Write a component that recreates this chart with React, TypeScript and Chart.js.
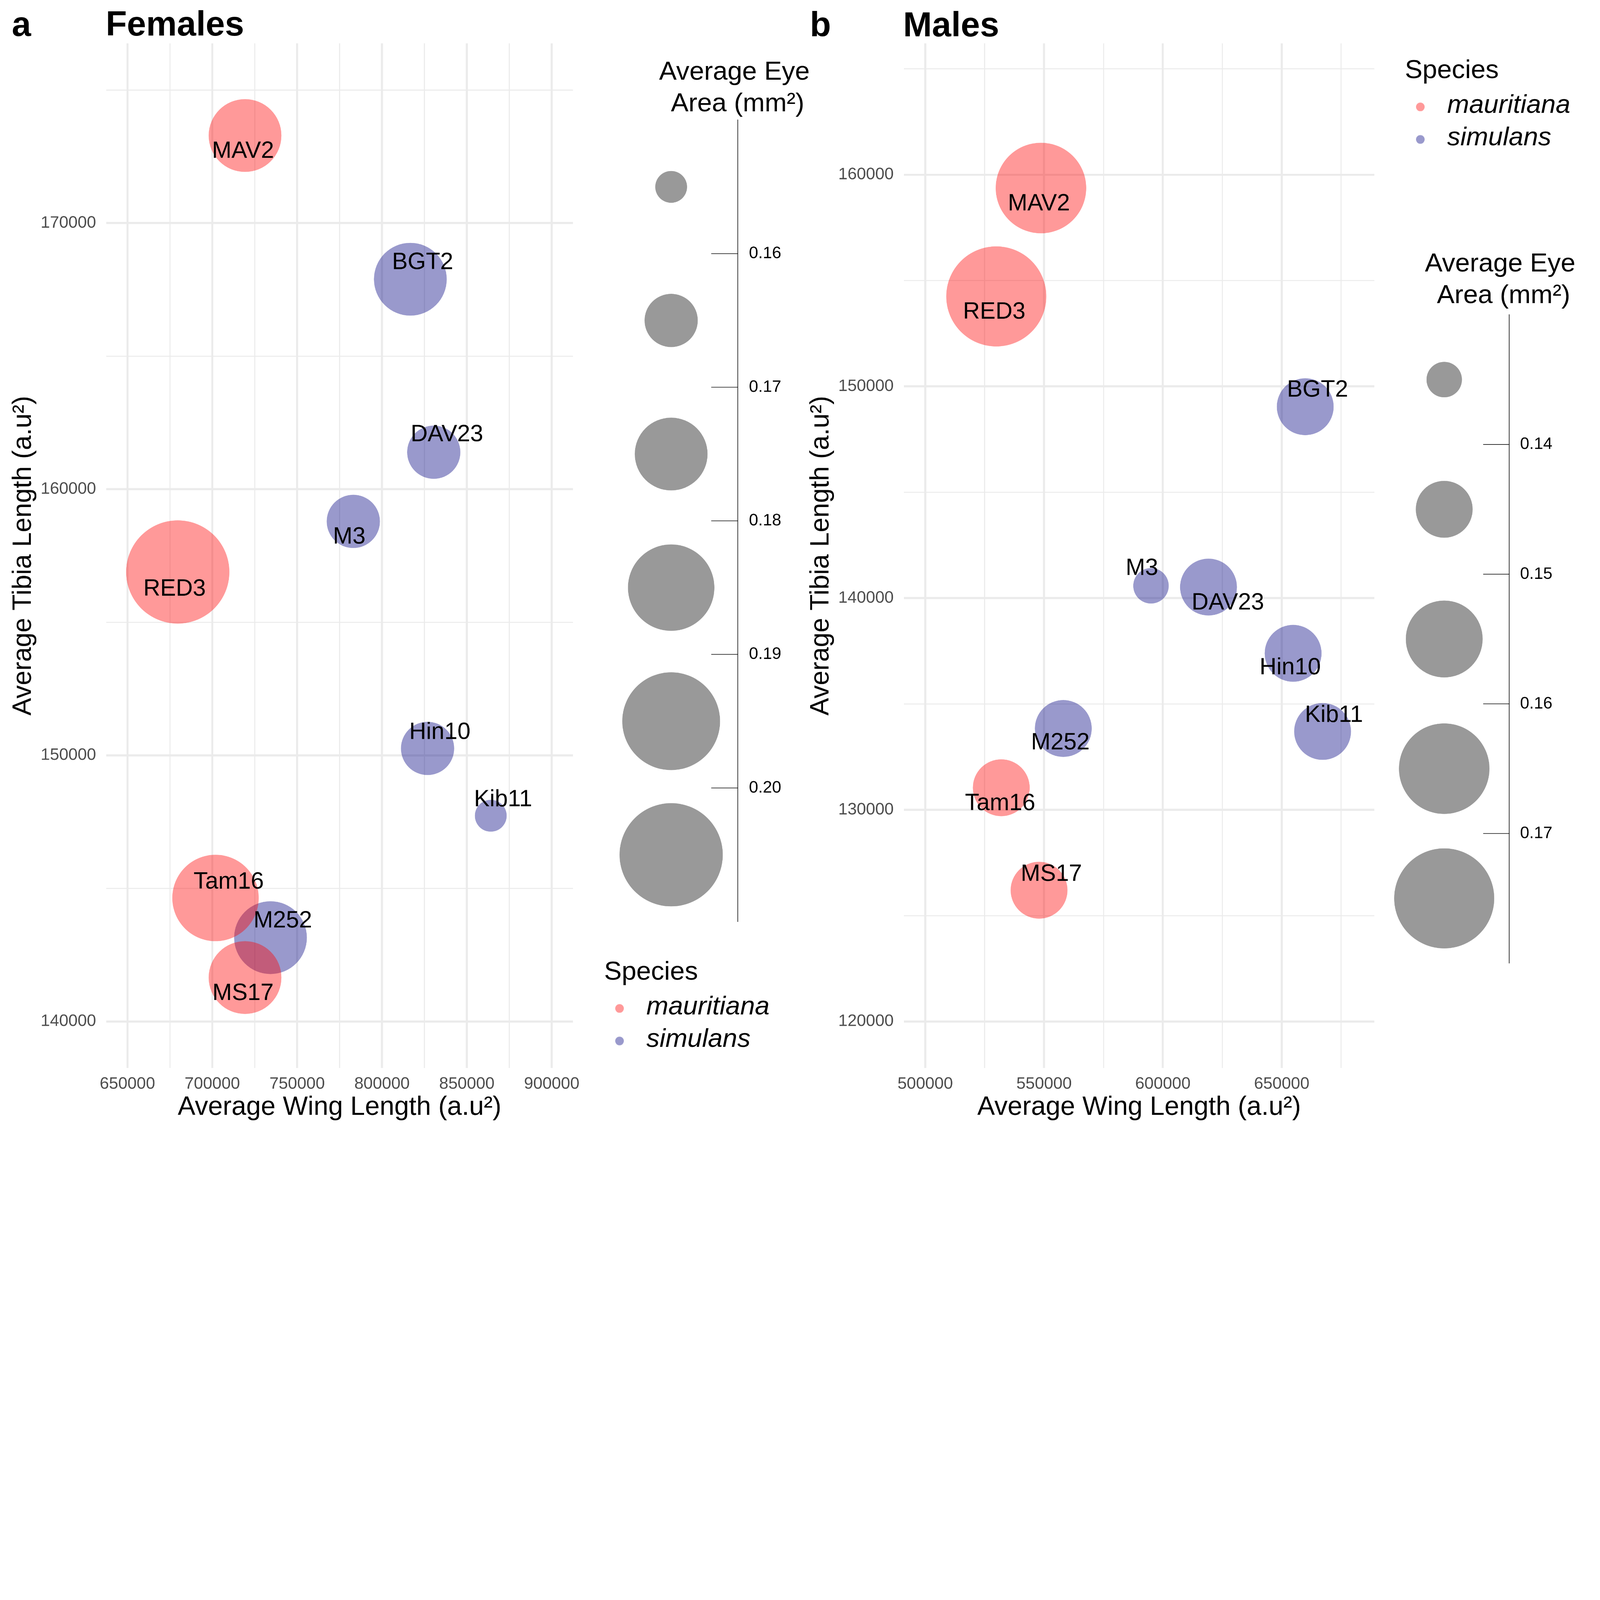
import React, { useEffect, useRef, useState } from 'react';
import { Chart, registerables } from 'chart.js';

Chart.register(...registerables);

const FONT = "'Liberation Sans', Arial, Helvetica, sans-serif";

// ---------------- data ----------------
const lineNames = ['MAV2', 'BGT2', 'DAV23', 'M3', 'RED3', 'Hin10', 'Kib11', 'Tam16', 'M252', 'MS17'];
const lineSpecies = ['mauritiana', 'simulans', 'simulans', 'simulans', 'mauritiana', 'simulans', 'simulans', 'mauritiana', 'simulans', 'mauritiana'];
const speciesNames = ['mauritiana', 'simulans'];

const femaleWing = [719300, 816700, 830500, 783100, 679650, 826850, 864100, 701900, 734300, 719300];
const femaleTibia = [173290, 167890, 161390, 158790, 156890, 150260, 147730, 144640, 143150, 141650];
const femaleEye = [0.175, 0.174, 0.165, 0.166, 0.203, 0.167, 0.155, 0.184, 0.173, 0.176];

const maleWing = [548700, 659900, 619200, 595000, 529900, 654800, 667200, 532000, 558100, 547900];
const maleTibia = [159370, 149040, 140520, 140580, 154250, 137390, 133700, 131040, 133840, 126200];
const maleEye = [0.165, 0.145, 0.146, 0.137, 0.172, 0.144, 0.147, 0.146, 0.143, 0.142];

const femaleWingLimits = [650000, 900000];
const femaleTibiaLimits = [140000, 175000];
const maleWingLimits = [500000, 680000];
const maleTibiaLimits = [120000, 164000];

const femaleWingTicks = [650000, 700000, 750000, 800000, 850000, 900000];
const femaleTibiaTicks = [140000, 150000, 160000, 170000];
const maleWingTicks = [500000, 550000, 600000, 650000];
const maleTibiaTicks = [120000, 130000, 140000, 150000, 160000];

const femaleEyeBreaks = [0.16, 0.17, 0.18, 0.19, 0.2];
const maleEyeBreaks = [0.14, 0.15, 0.16, 0.17];

// ---------------- styles ----------------
const SPECIES_COLORS: Record<string, string> = {
  mauritiana: 'rgba(255,0,0,0.4)',
  simulans: 'rgba(0,0,128,0.4)',
};
const femaleBinRadii = [70, 117, 160, 190, 215, 227];
const maleBinRadii = [78, 125, 169, 199, 220];
// label offsets (px) relative to bubble centre
const femaleLabelNudges = [[-9, 70], [54, -73], [58, -77], [-18, 69], [-14, 76], [54, -70], [54, -70], [58, -70], [54, -73], [-9, 70]];
const maleLabelNudges = [[-9, 70], [54, -73], [85, 70], [-40, -76], [-9, 69], [-13, 64], [50, -70], [-5, 70], [-13, 64], [54, -70]];

const W = 7035;
const H = 4978;

function expand(lim: number[]) {
  const d = (lim[1] - lim[0]) * 0.05;
  return [lim[0] - d, lim[1] + d];
}
function withMinors(majors: number[], range: number[]) {
  const step = majors[1] - majors[0];
  const out: number[] = [];
  for (let v = majors[0] - step / 2; v <= majors[majors.length - 1] + step / 2 + 1e-9; v += step / 2) {
    if (v >= range[0] && v <= range[1]) out.push(Math.round(v));
  }
  return out;
}
function binIndex(v: number, breaks: number[]) {
  let i = 0;
  while (i < breaks.length && v >= breaks[i]) i++;
  return i;
}

const labelPlugin = {
  id: 'pointNames',
  afterDatasetsDraw(chart: any) {
    const ctx = chart.ctx;
    ctx.save();
    ctx.font = `103px ${FONT}`;
    ctx.fillStyle = '#000';
    ctx.textAlign = 'center';
    ctx.textBaseline = 'middle';
    chart.data.datasets.forEach((ds: any, di: number) => {
      const meta = chart.getDatasetMeta(di);
      meta.data.forEach((el: any, i: number) => {
        const raw = ds.data[i];
        ctx.fillText(raw.name, el.x + raw.dx, el.y + raw.dy);
      });
    });
    ctx.restore();
  },
};

function Panel(props: any) {
  const ref = useRef<HTMLCanvasElement>(null);
  const { left, width, padRight, wing, tibia, eye, breaks, radii, nudges, xLim, yLim, xMajors, yMajors } = props;
  useEffect(() => {
    const xr = expand(xLim);
    const yr = expand(yLim);
    const xTicks = withMinors(xMajors, xr);
    const yTicks = withMinors(yMajors, yr);
    const datasets = speciesNames.map((sp) => ({
      label: sp,
      data: lineNames
        .map((name, i) => ({ x: wing[i], y: tibia[i], eye: eye[i], name, sp: lineSpecies[i], dx: nudges[i][0], dy: nudges[i][1] }))
        .filter((d) => d.sp === sp),
      backgroundColor: SPECIES_COLORS[sp],
      borderWidth: 0,
      pointBorderWidth: 0,
      pointRadius: (c: any) => radii[binIndex(c.raw.eye, breaks)],
      pointHoverRadius: (c: any) => radii[binIndex(c.raw.eye, breaks)],
    }));
    const tickFont = { family: FONT, size: 73 };
    const titleFont = { family: FONT, size: 116 };
    const chart = new Chart(ref.current as HTMLCanvasElement, {
      type: 'scatter',
      data: { datasets } as any,
      options: {
        animation: false,
        responsive: false,
        devicePixelRatio: 1,
        events: [],
        layout: { autoPadding: false, padding: { left: 0, top: 191, right: padRight, bottom: 38 } },
        plugins: { legend: { display: false }, tooltip: { enabled: false } },
        scales: {
          x: {
            type: 'linear',
            min: xr[0],
            max: xr[1],
            afterBuildTicks: (s: any) => { s.ticks = xTicks.map((v) => ({ value: v })); },
            afterFit: (s: any) => { s.height = 244; },
            ticks: {
              autoSkip: false, maxRotation: 0, minRotation: 0, padding: 27, color: '#4D4D4D', font: tickFont,
              callback: (v: any) => (xMajors.includes(v) ? String(v) : ''),
            },
            grid: {
              color: '#EBEBEB', drawTicks: false,
              lineWidth: (c: any) => (c.tick && xMajors.includes(c.tick.value) ? 9 : 4.5),
            },
            border: { display: false },
            title: { display: true, text: 'Average Wing Length (a.u²)', color: '#000', font: titleFont, padding: { top: 0, bottom: 0 } },
          },
          y: {
            type: 'linear',
            min: yr[0],
            max: yr[1],
            afterBuildTicks: (s: any) => { s.ticks = yTicks.map((v) => ({ value: v })); },
            afterFit: (s: any) => { s.width = 467; },
            ticks: {
              autoSkip: false, padding: 44.6, color: '#4D4D4D', font: tickFont,
              callback: (v: any) => (yMajors.includes(v) ? String(v) : ''),
            },
            grid: {
              color: '#EBEBEB', drawTicks: false,
              lineWidth: (c: any) => (c.tick && yMajors.includes(c.tick.value) ? 9 : 4.5),
            },
            border: { display: false },
            title: { display: true, text: 'Average Tibia Length (a.u²)', color: '#000', font: titleFont, padding: { top: 34, bottom: 0 } },
          },
        },
      } as any,
      plugins: [labelPlugin],
    });
    return () => chart.destroy();
  }, []);
  return <canvas ref={ref} width={width} height={H} style={{ position: 'absolute', left, top: 0, width, height: H }} />;
}

function SizeLegend(props: any) {
  const ref = useRef<HTMLCanvasElement>(null);
  const { left, width, axisWidth, top, bottom, breaks, radii, labelPad, tickLen } = props;
  useEffect(() => {
    const step = breaks[1] - breaks[0];
    const centers = [breaks[0] - step / 2, ...breaks.map((b: number) => b + step / 2)];
    const tickPlugin = {
      id: 'legendTicks',
      afterDraw(chart: any) {
        const s = chart.scales.y;
        const ctx = chart.ctx;
        ctx.save();
        ctx.strokeStyle = '#000';
        ctx.lineWidth = 2.5;
        breaks.forEach((b: number) => {
          const y = s.getPixelForValue(b);
          ctx.beginPath();
          ctx.moveTo(s.left - tickLen, y);
          ctx.lineTo(s.left, y);
          ctx.stroke();
        });
        ctx.restore();
      },
    };
    const chart = new Chart(ref.current as HTMLCanvasElement, {
      type: 'scatter',
      data: {
        datasets: [{
          data: centers.map((c: number) => ({ x: 0, y: c })),
          backgroundColor: 'rgba(0,0,0,0.4)',
          borderWidth: 0,
          pointBorderWidth: 0,
          pointRadius: (c: any) => radii[c.dataIndex],
          pointHoverRadius: (c: any) => radii[c.dataIndex],
          clip: false,
        }],
      } as any,
      options: {
        animation: false,
        responsive: false,
        devicePixelRatio: 1,
        events: [],
        layout: { autoPadding: false, padding: { left: 0, top, right: 0, bottom: H - bottom } },
        plugins: { legend: { display: false }, tooltip: { enabled: false } },
        scales: {
          x: { type: 'linear', display: false, min: -1, max: 1 },
          y: {
            type: 'linear',
            position: 'right',
            reverse: true,
            min: breaks[0] - step,
            max: breaks[breaks.length - 1] + step,
            afterBuildTicks: (s: any) => { s.ticks = breaks.map((v: number) => ({ value: v })); },
            afterFit: (s: any) => { s.width = axisWidth; },
            ticks: { autoSkip: false, padding: labelPad, color: '#000', font: { family: FONT, size: 73 }, callback: (v: any) => Number(v).toFixed(2) },
            grid: { drawOnChartArea: false, drawTicks: false },
            border: { display: true, color: '#333333', width: 3.5 },
          },
        },
      } as any,
      plugins: [tickPlugin],
    });
    return () => chart.destroy();
  }, []);
  return <canvas ref={ref} width={width} height={H} style={{ position: 'absolute', left, top: 0, width, height: H }} />;
}

function Txt(props: any) {
  const { x, y, size, weight = 'normal', italic = false, align = 'left', children } = props;
  const style: any = {
    position: 'absolute',
    top: y - 0.8465 * size,
    left: x,
    fontFamily: FONT,
    fontSize: size,
    lineHeight: `${size}px`,
    fontWeight: weight,
    fontStyle: italic ? 'italic' : 'normal',
    whiteSpace: 'nowrap',
    color: '#000',
  };
  if (align === 'center') style.transform = 'translateX(-50%)';
  return <div style={style}>{children}</div>;
}

function Dot({ cx, cy, color }: any) {
  return <div style={{ position: 'absolute', left: cx - 19, top: cy - 19, width: 38, height: 38, borderRadius: '50%', background: color }} />;
}

function SpeciesLegend({ x, y }: any) {
  return (
    <>
      <Txt x={x} y={y} size={116}>Species</Txt>
      {speciesNames.map((sp, i) => (
        <React.Fragment key={sp}>
          <Dot cx={x + 68} cy={y + 126 + i * 143} color={SPECIES_COLORS[sp]} />
          <Txt x={x + 186} y={y + 152 + i * 143} size={116} italic>{sp}</Txt>
        </React.Fragment>
      ))}
    </>
  );
}

function fitScale() {
  const s = Math.min(window.innerWidth / W, window.innerHeight / H);
  return s > 0 && isFinite(s) ? Math.min(s, 1) : 1;
}

export default function App() {
  const [scale, setScale] = useState(fitScale());
  useEffect(() => {
    document.body.style.margin = '0';
    document.documentElement.style.overflow = 'hidden';
    const onResize = () => setScale(fitScale());
    window.addEventListener('resize', onResize);
    return () => window.removeEventListener('resize', onResize);
  }, []);
  return (
    <div style={{ position: 'absolute', left: 0, top: 0, width: W * scale, height: H * scale, overflow: 'hidden', background: '#fff' }}>
      <div style={{ position: 'absolute', left: 0, top: 0, width: W, height: H, background: '#fff', transform: `scale(${scale})`, transformOrigin: '0 0' }}>
        <Panel left={0} width={2600} padRight={81} wing={femaleWing} tibia={femaleTibia} eye={femaleEye}
          breaks={femaleEyeBreaks} radii={femaleBinRadii} nudges={femaleLabelNudges}
          xLim={femaleWingLimits} yLim={femaleTibiaLimits} xMajors={femaleWingTicks} yMajors={femaleTibiaTicks} />
        <Panel left={3507} width={2576} padRight={40} wing={maleWing} tibia={maleTibia} eye={maleEye}
          breaks={maleEyeBreaks} radii={maleBinRadii} nudges={maleLabelNudges}
          xLim={maleWingLimits} yLim={maleTibiaLimits} xMajors={maleWingTicks} yMajors={maleTibiaTicks} />
        <SizeLegend left={2658} width={816} axisWidth={230} top={528} bottom={4052}
          breaks={femaleEyeBreaks} radii={femaleBinRadii} labelPad={49} tickLen={117} />
        <SizeLegend left={6064} width={822} axisWidth={250} top={1384} bottom={4235}
          breaks={maleEyeBreaks} radii={maleBinRadii} labelPad={47.5} tickLen={115} />

        <Txt x={52} y={158} size={152} weight="bold">a</Txt>
        <Txt x={465} y={157} size={152} weight="bold">Females</Txt>
        <Txt x={3561} y={160} size={152} weight="bold">b</Txt>
        <Txt x={3971} y={160} size={152} weight="bold">Males</Txt>

        <Txt x={3229} y={350} size={116} align="center">Average Eye</Txt>
        <Txt x={3243} y={489} size={116} align="center">Area (mm²)</Txt>
        <Txt x={6596} y={1194} size={116} align="center">Average Eye</Txt>
        <Txt x={6611} y={1332} size={116} align="center">Area (mm²)</Txt>

        <SpeciesLegend x={2656} y={4308} />
        <SpeciesLegend x={6177} y={344} />
      </div>
    </div>
  );
}
